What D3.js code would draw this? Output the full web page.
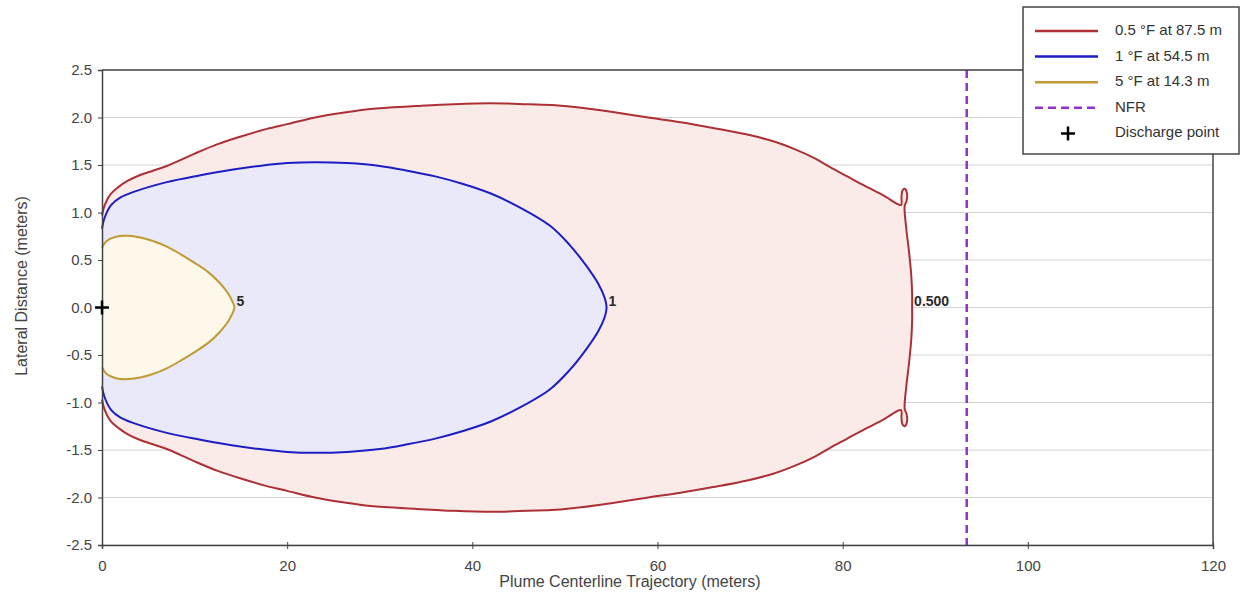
<!DOCTYPE html>
<html>
<head>
<meta charset="utf-8">
<script src="https://cdn.jsdelivr.net/npm/d3@7"></script>
<style>
  body { margin: 0; background: #fff; }
  svg { display: block; font-family: "Liberation Sans", Arial, sans-serif; }
</style>
</head>
<body>
<svg id="chart" width="1244" height="601"></svg>
<script>
// Axis ticks
const xTicks = [0, 20, 40, 60, 80, 100, 120];
const yTicks = [-2.5, -2.0, -1.5, -1.0, -0.5, 0.0, 0.5, 1.0, 1.5, 2.0, 2.5];

// Upper half-width of each plume contour (distance along trajectory m, lateral m);
// the lower half is the mirror image about the centerline.
const plume05 = [
  [0, 0.97], [0.3, 1.08], [0.9, 1.19], [1.8, 1.27], [2.7, 1.33], [4, 1.39], [5.5, 1.44],
  [7, 1.49], [10, 1.62], [12.5, 1.72], [15, 1.80], [17.8, 1.88], [20, 1.93], [23, 2.0],
  [26, 2.05], [29, 2.09], [34, 2.12], [38, 2.14], [42, 2.15], [46, 2.14], [49, 2.13],
  [52, 2.10], [55, 2.06], [59, 2.00], [62.5, 1.95], [66, 1.89], [69.7, 1.82], [72.5, 1.75],
  [75, 1.66], [77, 1.57], [78.6, 1.48], [80.5, 1.38], [82.2, 1.29], [84.4, 1.18],
  [86.3, 1.08], [86.35, 1.16], [86.45, 1.23], [86.7, 1.25], [86.95, 1.2], [86.9, 1.12],
  [86.7, 1.07], [86.85, 0.85], [87.15, 0.6], [87.4, 0.35], [87.5, 0.15], [87.5, 0]
];
const plume1 = [
  [0, 0.83], [0.3, 0.95], [1, 1.08], [2, 1.16], [3.5, 1.22], [7, 1.32], [10.5, 1.39],
  [14, 1.45], [17, 1.49], [20, 1.52], [23, 1.53], [26.5, 1.52], [30, 1.49], [33, 1.44],
  [36, 1.38], [39, 1.30], [42, 1.20], [45, 1.06], [48.4, 0.86], [50.5, 0.66], [52.3, 0.44],
  [53.6, 0.25], [54.3, 0.10], [54.5, 0]
];
const plume5 = [
  [0, 0.63], [0.5, 0.70], [1.5, 0.745], [2.5, 0.755], [4, 0.74], [5.5, 0.70], [7, 0.64],
  [8.5, 0.56], [10, 0.47], [11.5, 0.37], [12.7, 0.26], [13.6, 0.15], [14.1, 0.06], [14.3, 0]
];

const contourLabels = ["0.500", "1", "5"];
const legendLabels = ["0.5 °F at 87.5 m", "1 °F at 54.5 m", "5 °F at 14.3 m", "NFR", "Discharge point"];
const nfrDistance = [93.4];
const dischargePoint = [[0, 0]];

const svg = d3.select("#chart");
const margin = { left: 102, right: 1213, top: 70, bottom: 545 };

const x = d3.scaleLinear().domain([0, 120]).range([margin.left, margin.right]);
const y = d3.scaleLinear().domain([-2.5, 2.5]).range([margin.bottom, margin.top]);

// Horizontal gridlines
svg.append("g")
  .selectAll("line")
  .data(yTicks)
  .join("line")
  .attr("x1", x(0)).attr("x2", x(120))
  .attr("y1", d => y(d)).attr("y2", d => y(d))
  .attr("stroke", "#d4d4d4").attr("stroke-width", 1);

// Contours: fill closed along the discharge plane, stroke the open outline
const styles = [
  { data: plume05, fill: "#fbebe8", stroke: "#ac3036", label: contourLabels[0] },
  { data: plume1, fill: "#e9e9f9", stroke: "#1d1dc4", label: contourLabels[1] },
  { data: plume5, fill: "#fdf8e9", stroke: "#c09a34", label: contourLabels[2] }
];

const outline = d3.line()
  .x(d => x(d[0])).y(d => y(d[1]))
  .curve(d3.curveCatmullRom.alpha(0.5));

function fullContour(upper) {
  const lower = upper.slice(0, -1).reverse().map(d => [d[0], -d[1]]);
  return upper.concat(lower);
}

const plumes = svg.append("g");
styles.forEach(s => {
  const pts = fullContour(s.data);
  plumes.append("path")
    .attr("d", outline(pts) + "Z")
    .attr("fill", s.fill).attr("stroke", "none");
  plumes.append("path")
    .attr("d", outline(pts))
    .attr("fill", "none")
    .attr("stroke", s.stroke).attr("stroke-width", 2)
    .attr("stroke-linejoin", "round");
});

// Contour value labels at the downstream tip
svg.append("g")
  .selectAll("text")
  .data(styles)
  .join("text")
  .attr("x", d => x(d.data[d.data.length - 1][0]) + 2)
  .attr("y", d => y(d.data[d.data.length - 1][1]) - 5)
  .attr("dominant-baseline", "middle")
  .attr("font-size", 14).attr("font-weight", "bold")
  .attr("fill", "#2a2a2a")
  .text(d => d.label);

// Near-field region boundary
svg.append("g")
  .selectAll("line")
  .data(nfrDistance)
  .join("line")
  .attr("x1", d => x(d)).attr("x2", d => x(d))
  .attr("y1", y(2.5)).attr("y2", y(-2.5))
  .attr("stroke", "#9430cc").attr("stroke-width", 2.5)
  .attr("stroke-dasharray", "8,5");

// Plot frame (top and right edges)
svg.append("path")
  .attr("d", `M${x(0)},${y(2.5)}H${x(120)}V${y(-2.5)}`)
  .attr("fill", "none").attr("stroke", "#444").attr("stroke-width", 1.5);

// Axes
const xAxis = svg.append("g")
  .attr("transform", `translate(0,${y(-2.5)})`)
  .call(d3.axisBottom(x).tickValues(xTicks).tickFormat(d => String(d)).tickSize(4).tickPadding(11));
xAxis.selectAll(".tick line").attr("y1", -3).attr("stroke", "#444");
xAxis.select(".domain").attr("stroke", "#444").attr("stroke-width", 1.5);
xAxis.selectAll("text").attr("font-size", 15).attr("fill", "#444")
  .attr("font-family", "'Liberation Sans', Arial, sans-serif");

const yAxis = svg.append("g")
  .attr("transform", `translate(${x(0)},0)`)
  .call(d3.axisLeft(y).tickValues(yTicks).tickFormat(d => d.toFixed(1)).tickSize(4).tickPadding(6));
yAxis.selectAll(".tick line").attr("x1", 1).attr("stroke", "#444");
yAxis.select(".domain").attr("stroke", "#444").attr("stroke-width", 1.5);
yAxis.selectAll("text").attr("font-size", 15).attr("fill", "#444")
  .attr("font-family", "'Liberation Sans', Arial, sans-serif");

// Axis titles
svg.append("text")
  .attr("x", 630).attr("y", 587)
  .attr("text-anchor", "middle")
  .attr("font-size", 16).attr("fill", "#444")
  .text("Plume Centerline Trajectory (meters)");

svg.append("text")
  .attr("transform", "translate(27,286) rotate(-90)")
  .attr("text-anchor", "middle")
  .attr("font-size", 16).attr("fill", "#444")
  .text("Lateral Distance (meters)");

// Discharge point marker
function plus(sel, cx, cy, r) {
  sel.append("path")
    .attr("d", `M${cx - r},${cy}H${cx + r}M${cx},${cy - r}V${cy + r}`)
    .attr("stroke", "#000").attr("stroke-width", 2.5).attr("fill", "none");
}
const marks = svg.append("g");
dischargePoint.forEach(d => plus(marks, x(d[0]), y(d[1]), 7));

// Legend
const legend = svg.append("g");
legend.append("rect")
  .attr("x", 1023).attr("y", 7).attr("width", 216).attr("height", 147)
  .attr("fill", "#fff").attr("stroke", "#444").attr("stroke-width", 1.5);

const rowY = i => 31 + i * 25.6;
const sampleStyles = [
  { stroke: "#ac3036" }, { stroke: "#1d1dc4" }, { stroke: "#c09a34" },
  { stroke: "#9430cc", dash: "8,5" }
];
sampleStyles.forEach((s, i) => {
  legend.append("line")
    .attr("x1", 1035).attr("x2", 1098)
    .attr("y1", rowY(i)).attr("y2", rowY(i))
    .attr("stroke", s.stroke).attr("stroke-width", 2.5)
    .attr("stroke-dasharray", s.dash || null);
});
plus(legend, 1068, rowY(4), 7);

legend.selectAll("text.lbl")
  .data(legendLabels)
  .join("text")
  .attr("class", "lbl")
  .attr("x", 1115)
  .attr("y", (d, i) => rowY(i))
  .attr("dominant-baseline", "middle")
  .attr("font-size", 15).attr("fill", "#333")
  .text(d => d);
</script>
</body>
</html>
